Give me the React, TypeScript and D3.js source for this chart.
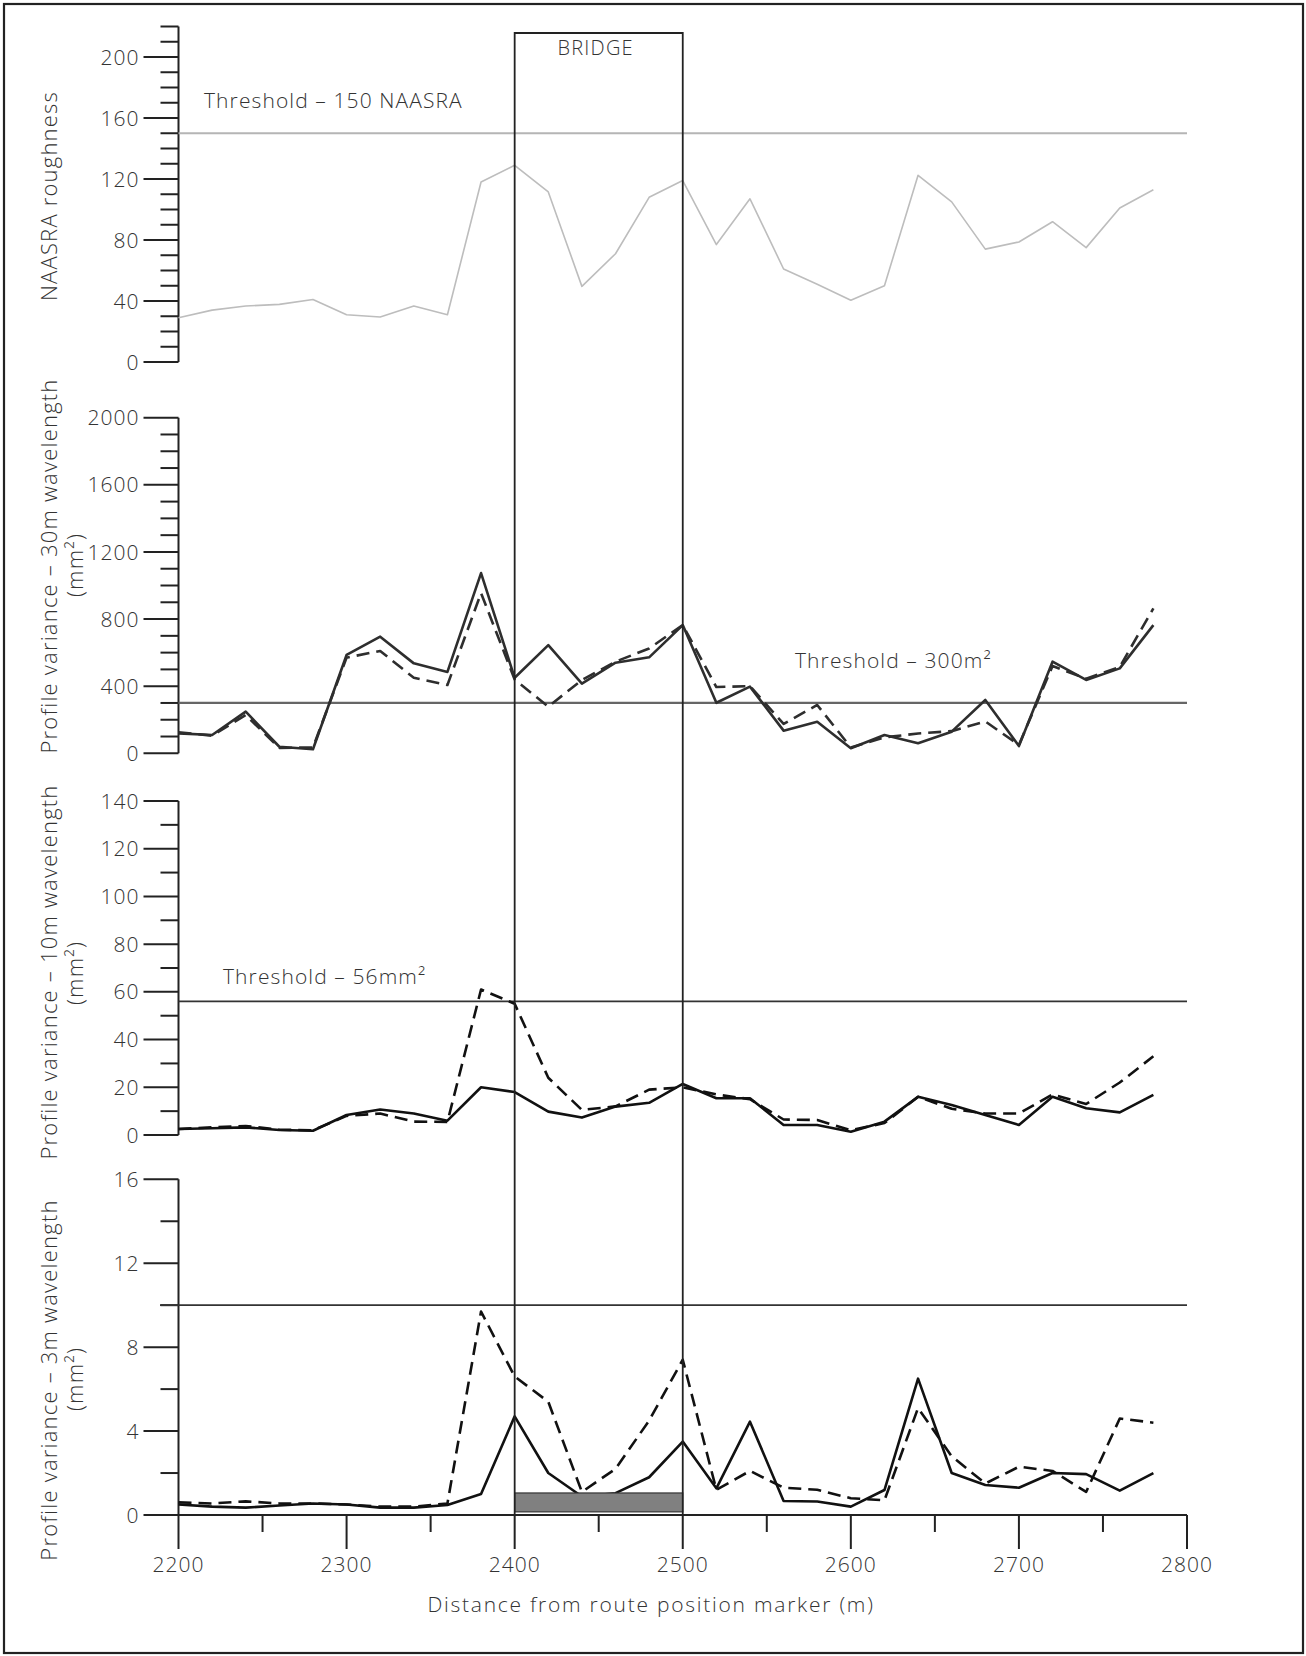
import React from "react";
import * as d3 from "d3";

// Chainage along the route (m)
const distance = [
  2200, 2220, 2240, 2260, 2280, 2300, 2320, 2340, 2360, 2380,
  2400, 2420, 2440, 2460, 2480, 2500, 2520, 2540, 2560, 2580,
  2600, 2620, 2640, 2660, 2680, 2700, 2720, 2740, 2760, 2780,
];

// NAASRA roughness counts
const naasra = [
  29, 34, 36.7, 37.8, 41, 31, 29.5, 36.7, 31, 118,
  129, 111.5, 49.6, 71, 108, 119, 77, 107, 61, 51,
  40.5, 50, 122.4, 105, 74, 78.7, 92, 75, 101, 113,
];

// Profile variance, 30 m wavelength (mm²)
const var30Solid = [
  119, 109, 248, 39, 24, 586, 695, 536, 485, 1074,
  450, 645, 415, 540, 572, 764, 301, 397, 135, 188,
  30, 109, 60, 129, 318, 43, 546, 437, 506, 764,
];
const var30Dashed = [
  125, 105, 228, 32, 35, 570, 610, 450, 407, 955,
  440, 278, 437, 546, 625, 764, 395, 400, 175, 288,
  35, 95, 118, 132, 190, 50, 520, 445, 515, 864,
];

// Profile variance, 10 m wavelength (mm²)
const var10Solid = [
  2.5, 2.8, 3.2, 2.1, 1.8, 8.4, 10.7, 9, 6, 20,
  18, 9.8, 7.3, 11.9, 13.5, 21.4, 15.4, 15.4, 4.2, 4.2,
  1.4, 5.6, 16, 12.6, 8.4, 4.2, 16, 11.2, 9.5, 16.8,
];
const var10Dashed = [
  2.5, 3.2, 3.8, 2.2, 2, 8, 9, 5.6, 5.5, 61,
  55, 24, 10.5, 12, 19, 20, 17, 15, 6.5, 6.3,
  2, 5, 16, 11, 9, 9, 17, 13, 22, 33,
];

// Profile variance, 3 m wavelength (mm²)
const var3Solid = [
  0.5, 0.4, 0.35, 0.45, 0.55, 0.5, 0.35, 0.35, 0.48, 1.0,
  4.7, 2.0, 0.88, 1.04, 1.8, 3.5, 1.27, 4.45, 0.67, 0.64,
  0.4, 1.19, 6.5, 2.0, 1.43, 1.3, 2.0, 1.95, 1.16, 2.0,
];
const var3Dashed = [
  0.6, 0.55, 0.65, 0.55, 0.55, 0.5, 0.4, 0.4, 0.55, 9.7,
  6.6, 5.4, 1.1, 2.2, 4.5, 7.4, 1.2, 2.1, 1.3, 1.2,
  0.8, 0.7, 5.1, 2.8, 1.5, 2.3, 2.1, 1.1, 4.6, 4.4,
];

// Axis ticks
const xTickLabels = [2200, 2300, 2400, 2500, 2600, 2700, 2800];
const naasraTicks = [0, 40, 80, 120, 160, 200];
const var30Ticks = [0, 400, 800, 1200, 1600, 2000];
const var10Ticks = [0, 20, 40, 60, 80, 100, 120, 140];
const var3Ticks = [0, 4, 8, 12, 16];

// Thresholds
const naasraThreshold = 150;
const var30Threshold = 300;
const var10Threshold = 56;
const var3Threshold = 10;

// Bridge extent and deck band
const bridgeStart = 2400;
const bridgeEnd = 2500;
const deckLow = 0.15;
const deckHigh = 1.05;

const FONT = "'Open Sans', 'Noto Sans', sans-serif";
const TEXT = "#333";
const INK = "#222";
const WEIGHT = 300;

const W = 1306;
const H = 1656;

const x = d3.scaleLinear().domain([2200, 2800]).range([178.5, 1187]);
const xEnd = x(2800);

type Panel = {
  key: string;
  y: d3.ScaleLinear<number, number>;
  top: number;
  minorStep: number;
  majorTicks: number[];
  series: { values: number[]; dashed: boolean; color: string; width: number }[];
  threshold: number;
  thresholdColor: string;
  thresholdWidth: number;
  thresholdFrom: number;
  title: string[];
  titleCenter: number[];
  thresholdLabel?: { text: string; x: number; y: number };
};

const panels: Panel[] = [
  {
    key: "naasra",
    y: d3.scaleLinear().domain([0, 200]).range([362, 57]),
    top: 220,
    minorStep: 10,
    majorTicks: naasraTicks,
    series: [{ values: naasra, dashed: false, color: "#bdbdbd", width: 1.6 }],
    threshold: naasraThreshold,
    thresholdColor: "#b5b5b5",
    thresholdWidth: 2,
    thresholdFrom: 178.5,
    title: ["NAASRA roughness"],
    titleCenter: [196],
    thresholdLabel: { text: "Threshold – 150 NAASRA", x: 204, y: 108 },
  },
  {
    key: "v30",
    y: d3.scaleLinear().domain([0, 2000]).range([753.3, 417.7]),
    top: 2000,
    minorStep: 100,
    majorTicks: var30Ticks,
    series: [
      { values: var30Solid, dashed: false, color: "#2e2e2e", width: 2.6 },
      { values: var30Dashed, dashed: true, color: "#2e2e2e", width: 2.6 },
    ],
    threshold: var30Threshold,
    thresholdColor: "#666",
    thresholdWidth: 2.2,
    thresholdFrom: 178.5,
    title: ["Profile variance – 30m wavelength", "(mm²)"],
    titleCenter: [566, 565],
    thresholdLabel: { text: "Threshold – 300m²", x: 795, y: 668 },
  },
  {
    key: "v10",
    y: d3.scaleLinear().domain([0, 140]).range([1135, 801]),
    top: 140,
    minorStep: 10,
    majorTicks: var10Ticks,
    series: [
      { values: var10Solid, dashed: false, color: "#111", width: 2.6 },
      { values: var10Dashed, dashed: true, color: "#111", width: 2.6 },
    ],
    threshold: var10Threshold,
    thresholdColor: "#333",
    thresholdWidth: 1.8,
    thresholdFrom: 178.5,
    title: ["Profile variance – 10m wavelength", "(mm²)"],
    titleCenter: [972, 973],
    thresholdLabel: { text: "Threshold – 56mm²", x: 223, y: 984 },
  },
  {
    key: "v3",
    y: d3.scaleLinear().domain([0, 16]).range([1515, 1179.3]),
    top: 16,
    minorStep: 2,
    majorTicks: var3Ticks,
    series: [
      { values: var3Solid, dashed: false, color: "#111", width: 2.6 },
      { values: var3Dashed, dashed: true, color: "#111", width: 2.6 },
    ],
    threshold: var3Threshold,
    thresholdColor: "#333",
    thresholdWidth: 1.8,
    thresholdFrom: 160,
    title: ["Profile variance – 3m wavelength", "(mm²)"],
    titleCenter: [1380, 1379],
  },
];

const MAJOR = 35;
const MINOR = 18;

function PanelView({ p }: { p: Panel }) {
  const y = p.y;
  const ax = x(2200);
  const minor = d3.range(0, p.top + p.minorStep / 2, p.minorStep);
  const line = d3
    .line<number>()
    .x((_, i) => x(distance[i]))
    .y((v) => y(v));
  const titleX = [57, 83];
  return (
    <g>
      {/* axis spine */}
      <line x1={ax} x2={ax} y1={y(p.top)} y2={y(0)} stroke={INK} strokeWidth={2} />
      {minor.map((t) => {
        const major = p.majorTicks.includes(t);
        return (
          <line
            key={`t${t}`}
            x1={ax - (major ? MAJOR : MINOR)}
            x2={ax}
            y1={y(t)}
            y2={y(t)}
            stroke={INK}
            strokeWidth={2}
          />
        );
      })}
      {p.majorTicks.map((t) => (
        <text
          key={`l${t}`}
          x={ax - MAJOR - 4}
          y={y(t)}
          dy="0.36em"
          textAnchor="end"
          fontSize={21}
          letterSpacing={1}
          fill={TEXT}
        >
          {t}
        </text>
      ))}
      {/* threshold */}
      <line
        x1={p.thresholdFrom}
        x2={xEnd}
        y1={y(p.threshold)}
        y2={y(p.threshold)}
        stroke={p.thresholdColor}
        strokeWidth={p.thresholdWidth}
      />
      {p.thresholdLabel && (
        <text
          x={p.thresholdLabel.x}
          y={p.thresholdLabel.y}
          fontSize={21}
          letterSpacing={1.1}
          fill={TEXT}
        >
          {p.thresholdLabel.text}
        </text>
      )}
      {/* data */}
      {p.series.map((s, i) => (
        <path
          key={`s${i}`}
          d={line(s.values) || ""}
          fill="none"
          stroke={s.color}
          strokeWidth={s.width}
          strokeDasharray={s.dashed ? "13 7" : undefined}
          strokeLinejoin="round"
        />
      ))}
      {/* axis title */}
      {p.title.map((t, i) => (
        <text
          key={`ti${i}`}
          transform={`translate(${titleX[i]},${p.titleCenter[i]}) rotate(-90)`}
          textAnchor="middle"
          fontSize={22}
          letterSpacing={1.2}
          fill={TEXT}
        >
          {t}
        </text>
      ))}
    </g>
  );
}

export default function App() {
  const yBottom = panels[3].y;
  const axisY = yBottom(0);
  const xMinor = d3.range(2250, 2800, 100);
  return (
    <svg
      width={W}
      height={H}
      style={{ position: "absolute", left: 0, top: 0, background: "#fff" }}
      fontFamily={FONT}
      fontWeight={WEIGHT}
    >
      <rect x={0} y={0} width={W} height={H} fill="#fff" />
      {/* frame */}
      <rect x={4} y={4} width={1299} height={1649} fill="none" stroke={INK} strokeWidth={2.2} />

      {panels.map((p) => (
        <PanelView key={p.key} p={p} />
      ))}

      {/* bridge deck band */}
      <rect
        x={x(bridgeStart)}
        y={yBottom(deckHigh)}
        width={x(bridgeEnd) - x(bridgeStart)}
        height={yBottom(deckLow) - yBottom(deckHigh)}
        fill="#808080"
        stroke="#333"
        strokeWidth={1.2}
      />

      {/* bridge outline */}
      <path
        d={`M${x(bridgeStart)},${axisY} V33 H${x(bridgeEnd)} V${axisY}`}
        fill="none"
        stroke={INK}
        strokeWidth={1.8}
      />
      <text
        x={(x(bridgeStart) + x(bridgeEnd)) / 2 - 3}
        y={55}
        textAnchor="middle"
        fontSize={20}
        letterSpacing={1.2}
        fill={TEXT}
      >
        BRIDGE
      </text>

      {/* x axis */}
      <line x1={x(2200)} x2={xEnd} y1={axisY} y2={axisY} stroke={INK} strokeWidth={2} />
      {xTickLabels.map((t) => (
        <g key={`x${t}`}>
          <line x1={x(t)} x2={x(t)} y1={axisY} y2={axisY + 34} stroke={INK} strokeWidth={2} />
          <text x={x(t)} y={1572} textAnchor="middle" fontSize={21} letterSpacing={1} fill={TEXT}>
            {t}
          </text>
        </g>
      ))}
      {xMinor.map((t) => (
        <line key={`xm${t}`} x1={x(t)} x2={x(t)} y1={axisY} y2={axisY + 17} stroke={INK} strokeWidth={2} />
      ))}
      <text x={651} y={1612} textAnchor="middle" fontSize={21} letterSpacing={1.75} fill={TEXT}>
        Distance from route position marker (m)
      </text>
    </svg>
  );
}
